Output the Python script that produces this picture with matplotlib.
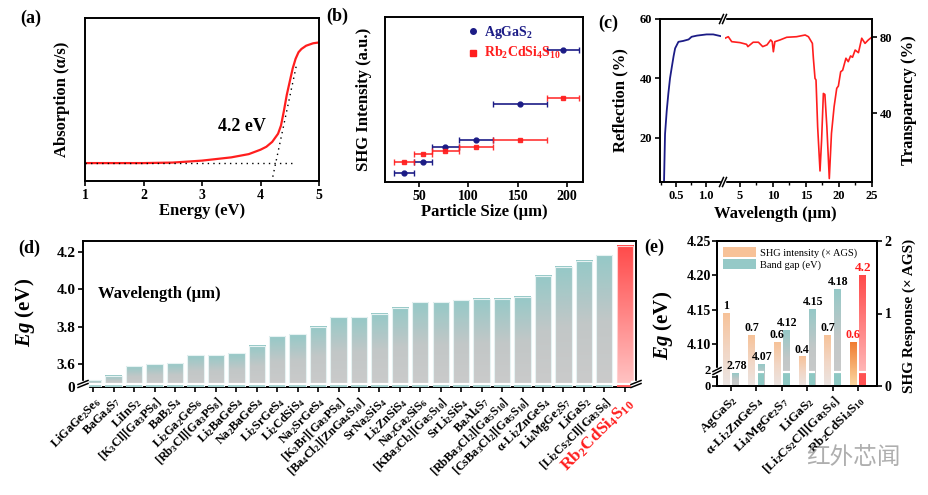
import numpy as np
import matplotlib
matplotlib.use('Agg')
import matplotlib.pyplot as plt
from matplotlib.colors import LinearSegmentedColormap
from matplotlib.lines import Line2D
from matplotlib.patches import Patch, Rectangle

plt.rcParams['font.family'] = ['Liberation Serif', 'DejaVu Serif']
plt.rcParams['font.weight'] = 'bold'
plt.rcParams['axes.labelweight'] = 'bold'
plt.rcParams['mathtext.fontset'] = 'custom'
plt.rcParams['mathtext.rm'] = 'Liberation Serif:bold'
plt.rcParams['mathtext.it'] = 'Liberation Serif:italic:bold'
plt.rcParams['mathtext.bf'] = 'Liberation Serif:bold'
plt.rcParams['axes.linewidth'] = 1.4
plt.rcParams['xtick.major.width'] = 1.2
plt.rcParams['ytick.major.width'] = 1.2
plt.rcParams['xtick.major.size'] = 3.5
plt.rcParams['ytick.major.size'] = 3.5

# (a) UV-vis absorption
energy = [1.0, 1.5, 2.0, 2.5, 3.0, 3.5, 3.8, 4.0, 4.1, 4.2, 4.3, 4.35, 4.4,
          4.45, 4.5, 4.55, 4.6, 4.65, 4.7, 4.78, 4.9, 5.0]
absorb = [0.11, 0.11, 0.11, 0.113, 0.125, 0.145, 0.165, 0.192, 0.21, 0.24,
          0.29, 0.34, 0.43, 0.53, 0.61, 0.69, 0.75, 0.79, 0.81, 0.83, 0.845, 0.85]
base_x = [1.0, 4.53]
base_y = [0.11, 0.11]
tan_x = [4.21, 4.62]
tan_y = [0.026, 0.72]

# (b) SHG vs particle size
size_c = [35, 54, 76.5, 107.5, 152.5, 196]
size_lo = [25, 45, 63, 90, 125, 180]
size_hi = [45, 63, 90, 125, 180, 212]
shg_ags = [0.053, 0.12, 0.214, 0.255, 0.472, 0.797]
shg_rb = [0.12, 0.17, 0.19, 0.214, 0.255, 0.512]

# (c) reflection / transparency
wl_uv = [0.25, 0.30, 0.317, 0.345, 0.372, 0.40, 0.43, 0.46, 0.485, 0.54,
         0.62, 0.71, 0.76, 0.85, 1.01, 1.12, 1.25]
refl = [4.9, 5.0, 21.2, 29.0, 34.8, 40.0, 43.8, 47.5, 50.1, 52.3, 52.6,
        53.1, 54.0, 54.4, 54.8, 54.8, 54.2]
wl_ir = [2.72, 3.22, 3.74, 5.0, 6.0, 6.2, 7.0, 7.8, 8.45, 9.1, 9.66, 9.9,
         10.07, 10.3, 11.08, 12.1, 13.6, 14.9, 15.4, 16.0, 16.15, 16.4, 16.55,
         16.8, 17.16, 17.4, 17.67, 17.9, 18.2, 18.57, 18.9, 19.3, 19.7, 19.95,
         20.3, 20.6, 21.1, 21.45, 21.8, 22.1, 22.5, 23.0, 23.5, 24.0, 24.5, 25.0]
trans = [79.5, 80.3, 77.7, 77.2, 76.3, 75.1, 77.4, 77.4, 75.1, 76.0, 78.6,
         77.7, 72.4, 77.7, 78.6, 80.0, 80.3, 81.2, 80.3, 76.8, 69.0, 58.4, 57.6,
         33.0, 9.8, 26.0, 50.5, 50.0, 33.0, 5.8, 29.5, 43.5, 53.2, 54.4, 61.9,
         62.7, 69.0, 67.2, 70.2, 69.5, 73.3, 71.9, 79.5, 76.8, 78.6, 80.0]

# (d) band gaps of reported sulfides
d_names = ['LiGaGe$_2$Se$_6$', 'BaGa$_4$S$_7$', 'LiInS$_2$',
           '[K$_3$Cl][Ga$_3$PS$_8$]', 'BaB$_2$S$_4$', 'Li$_2$Ga$_2$GeS$_6$',
           '[Rb$_3$Cl][Ga$_3$PS$_8$]', 'Li$_2$BaGeS$_4$', 'Na$_2$BaGeS$_4$',
           'Li$_2$SrGeS$_4$', 'Li$_2$CdSiS$_4$', 'Na$_2$SrGeS$_4$',
           '[K$_3$Br][Ga$_3$PS$_8$]', '[Ba$_4$Cl$_2$][ZnGa$_4$S$_{10}$]',
           'SrNa$_2$SiS$_4$', 'Li$_2$ZnSiS$_4$', 'Na$_2$Ga$_2$SiS$_6$',
           '[KBa$_3$Cl$_2$][Ga$_5$S$_{10}$]', 'SrLi$_2$SiS$_4$', 'BaAl$_4$S$_7$',
           '[RbBa$_3$Cl$_2$][Ga$_5$S$_{10}$]', '[CsBa$_3$Cl$_2$][Ga$_5$S$_{10}$]',
           'α-Li$_2$ZnGeS$_4$', 'Li$_4$MgGe$_2$S$_7$', 'LiGaS$_2$',
           '[Li$_2$Cs$_2$Cl][Ga$_3$S$_6$]', 'Rb$_2$CdSi$_4$S$_{10}$']
d_eg = [3.517, 3.539, 3.59, 3.60, 3.607, 3.65, 3.65, 3.66, 3.70, 3.75, 3.76,
        3.80, 3.85, 3.85, 3.87, 3.90, 3.93, 3.93, 3.94, 3.95, 3.95, 3.96, 4.07,
        4.12, 4.15, 4.18, 4.23]

# (e) SHG response vs band gap
e_names = ['AgGaS$_2$', 'α-Li$_2$ZnGeS$_4$', 'Li$_4$MgGe$_2$S$_7$', 'LiGaS$_2$',
           '[Li$_2$Cs$_2$Cl][Ga$_3$S$_6$]', 'Rb$_2$CdSi$_4$S$_{10}$']
e_shg = [1.0, 0.7, 0.6, 0.4, 0.7, 0.6]
e_eg = [2.78, 4.07, 4.12, 4.15, 4.18, 4.2]

W, H = 929, 495
fig = plt.figure(figsize=(W / 100, H / 100), dpi=100)


def box(l, t, r, b):
    return [l / W, 1 - b / H, (r - l) / W, (b - t) / H]


def slash(x, y, w, h, gap):
    # two parallel short strokes used as axis-break marks (pixel coords)
    fig.add_artist(Rectangle(((x - w / 2) / W, 1 - (y + gap) / H), w / W, 2 * gap / H,
                             transform=fig.transFigure, color='white', zorder=9))
    for off in (-gap / 2, gap / 2):
        if w < h:
            xs = [(x - w / 2 + off) / W, (x + w / 2 + off) / W]
            ys = [1 - (y + h / 2) / H, 1 - (y - h / 2) / H]
        else:
            xs = [(x - w / 2) / W, (x + w / 2) / W]
            ys = [1 - (y + off + h / 2) / H, 1 - (y + off - h / 2) / H]
        fig.add_artist(Line2D(xs, ys, color='k', lw=1.1, zorder=10))


def gradient_bars(ax, bars, cmap, zorder=2):
    grad = np.linspace(0, 1, 256).reshape(-1, 1)
    for r in bars:
        x0, y0, w, h = r.get_x(), r.get_y(), r.get_width(), r.get_height()
        ax.imshow(grad, extent=(x0, x0 + w, y0, y0 + h), origin='lower',
                  aspect='auto', cmap=cmap, zorder=zorder, interpolation='bilinear')


teal = LinearSegmentedColormap.from_list('teal', ['#cbcbcb', '#c2c7c7', '#95c9c7'])
redc = LinearSegmentedColormap.from_list('redc', ['#ffc6c6', '#ff4a4a'])
orng = LinearSegmentedColormap.from_list('orng', ['#ebe5e3', '#f2d6c4', '#f7c298'])
orng2 = LinearSegmentedColormap.from_list('orng2', ['#fcd9a2', '#f07c32'])
navy = '#1c1c86'
red = '#ff1e1e'

# ---------------- (a)
ax = fig.add_axes(box(85, 18, 319, 181))
ax.plot(energy, absorb, color=red, lw=1.6)
ax.plot(base_x, base_y, ls=(0, (1, 3)), color='k', lw=1)
ax.plot(tan_x, tan_y, ls=(0, (1, 3)), color='k', lw=1)
ax.text(3.69, 0.334, '4.2 eV', fontsize=13, ha='center', va='center')
ax.set_xlim(1, 5)
ax.set_ylim(0, 1)
ax.set_yticks([])
ax.set_xticks([1, 2, 3, 4, 5])
ax.tick_params(labelsize=10, pad=2)
ax.set_xlabel('Energy (eV)', fontsize=12, labelpad=1)
ax.set_ylabel('Absorption (α/s)', fontsize=12)
ax.yaxis.set_label_coords(-0.064, 0.5)
fig.text(20 / W, 1 - 18 / H, '(a)', fontsize=13, va='center')

# ---------------- (b)
ax = fig.add_axes(box(385, 17, 583, 182))
xc = np.array(size_c)
xe = [xc - np.array(size_lo), np.array(size_hi) - xc]
ax.errorbar(xc, shg_ags, xerr=xe, fmt='o', ms=3.5, color=navy, capsize=2,
            elinewidth=1.2, capthick=1)
ax.errorbar(xc, shg_rb, xerr=xe, fmt='s', ms=3.5, color=red, capsize=2,
            elinewidth=1.2, capthick=1, alpha=0.9)
ax.set_xlim(15.5, 216)
ax.set_ylim(0, 1)
ax.set_yticks([])
ax.set_xticks([50, 100, 150, 200])
ax.tick_params(labelsize=10, pad=2)
ax.set_xlabel('Particle Size (μm)', fontsize=12, labelpad=1)
ax.set_ylabel('SHG Intensity (a.u.)', fontsize=12)
ax.yaxis.set_label_coords(-0.066, 0.5)
hd = [Line2D([], [], marker='o', ls='none', color=navy, ms=4),
      Line2D([], [], marker='s', ls='none', color=red, ms=4)]
ax.legend(hd, ['AgGaS$_2$', 'Rb$_2$CdSi$_4$S$_{10}$'], loc='upper left',
          bbox_to_anchor=(0.38, 0.99), frameon=False, handlelength=1,
          handletextpad=0.3, borderaxespad=0, labelspacing=0.3, fontsize=10,
          labelcolor=[navy, red])
fig.text(326 / W, 1 - 16 / H, '(b)', fontsize=13, va='center')

# ---------------- (c)
c1 = fig.add_axes(box(660, 19, 721, 182))
c2 = fig.add_axes(box(725, 19, 872, 182))
c1.plot(wl_uv, refl, color=navy, lw=1.3)
c2.plot(wl_ir, trans, color=red, lw=1.2)
c1.set_xlim(0.233, 1.25)
c1.set_ylim(5, 60)
c2.set_xlim(2.72, 25.06)
c2.set_ylim(4, 89.6)
c1.spines['right'].set_visible(False)
c2.spines['left'].set_visible(False)
c1.set_xticks([0.5, 1.0])
c1.set_xticks([0.25, 0.75, 1.25], minor=True)
c1.set_xticklabels(['0.5', '1.0'])
c1.set_yticks([20, 40, 60])
c2.set_xticks([5, 10, 15, 20, 25])
c2.set_xticks([7.5, 12.5, 17.5, 22.5], minor=True)
c2.yaxis.tick_right()
c2.yaxis.set_label_position('right')
c2.set_yticks([40, 80])
for a in (c1, c2):
    a.tick_params(labelsize=9, pad=2)
    a.tick_params(which='minor', length=2, width=1)
c1.set_ylabel('Reflection (%)', fontsize=12)
c1.yaxis.set_label_coords(-0.52, 0.5)
c2.set_ylabel('Transparency (%)', fontsize=12)
c2.yaxis.set_label_coords(1.2, 0.5)
fig.text(775 / W, 1 - 214 / H, 'Wavelength (μm)', fontsize=12, ha='center', va='center')
fig.text(598 / W, 1 - 23 / H, '(c)', fontsize=13, va='center')
slash(723, 19, 4, 9, 3)
slash(723, 182, 4, 9, 3)

# ---------------- (d)
ax = fig.add_axes(box(83, 241, 636, 387))
d_lo = 3.48
xd = np.arange(len(d_eg))
hd_ = np.array(d_eg) - d_lo
bars = ax.bar(xd[:-1], hd_[:-1], 0.8, bottom=d_lo, facecolor='none',
              edgecolor='#e6f2f2', lw=0.8, zorder=3)
gradient_bars(ax, bars, teal)
rbar = ax.bar(xd[-1:], hd_[-1:], 0.8, bottom=d_lo, facecolor='none',
              edgecolor='#ffd0d0', lw=0.8, zorder=3)
gradient_bars(ax, rbar, redc)
ax.bar(xd[:-1], 0.011, 0.8, bottom=d_lo, color='#a3d0ce', zorder=3)
ax.bar(xd[-1:], 0.011, 0.8, bottom=d_lo, color='#ff5a5a', zorder=3)
ax.axhline(3.4935, color='white', lw=1.6, zorder=4)
ax.set_xlim(-0.5, 26.55)
ax.set_ylim(d_lo, 4.256)
ax.set_yticks([d_lo, 3.6, 3.8, 4.0, 4.2])
ax.set_yticklabels(['0', '3.6', '3.8', '4.0', '4.2'])
ax.set_xticks(xd)
ax.set_xticklabels(d_names, rotation=45, ha='right', va='top',
                   rotation_mode='anchor', fontsize=8.8)
lab = ax.get_xticklabels()[-1]
lab.set_color(red)
lab.set_fontsize(12.5)
ax.tick_params(axis='y', labelsize=11, pad=2)
ax.tick_params(axis='x', pad=2)
ax.set_ylabel('$\\mathit{Eg}$ (eV)', fontsize=15)
ax.yaxis.set_label_coords(-0.083, 0.51)
ax.text(0.027, 0.64, 'Wavelength (μm)', transform=ax.transAxes, fontsize=12,
        va='center')
fig.text(18 / W, 1 - 248 / H, '(d)', fontsize=13, va='center')
slash(83, 384, 10, 4, 3)
slash(636, 384, 10, 4, 3)

# ---------------- (e)
ax = fig.add_axes(box(717, 241, 877, 386))
ax2 = ax.twinx()
e_lo = 4.0386


def eg_axis(v):
    v = np.asarray(v, float)
    return np.where(v >= 4.0, v, e_lo + v / 2.78 * 0.0189)


xe_ = np.arange(len(e_eg))
eg_pos = eg_axis(e_eg)
tb = ax.bar(xe_[:-1] + 0.19, eg_pos[:-1] - e_lo, 0.26, bottom=e_lo,
            facecolor='none', edgecolor='none', zorder=3)
gradient_bars(ax, tb, teal)
tr = ax.bar(xe_[-1:] + 0.19, eg_pos[-1:] - e_lo, 0.26, bottom=e_lo,
            facecolor='none', edgecolor='none', zorder=3)
gradient_bars(ax, tr, redc)
hi = np.array(e_eg) > 3
ax.bar(xe_[hi][:-1] + 0.19, 0.0186, 0.26, bottom=e_lo, color='#8ec8c3', zorder=3)
ax.bar(xe_[-1:] + 0.19, 0.0186, 0.26, bottom=e_lo, color='#ff5252', zorder=3)
ax.hlines(np.full(hi.sum(), e_lo + 0.0200), xe_[hi] + 0.06, xe_[hi] + 0.32,
          color='white', lw=1.6, zorder=4)
ob = ax2.bar(xe_[:-1] - 0.19, e_shg[:-1], 0.26, facecolor='none', edgecolor='none')
gradient_bars(ax2, ob, orng)
ob2 = ax2.bar(xe_[-1:] - 0.19, e_shg[-1:], 0.26, facecolor='none', edgecolor='none')
gradient_bars(ax2, ob2, orng2)
for i in range(len(e_eg)):
    last = i == len(e_eg) - 1
    col = red if last else 'k'
    ax2.annotate(f'{e_eg[i]:g}', (xe_[i] + 0.22, eg_pos[i]), xycoords=ax.transData,
                 xytext=(0, 1), textcoords='offset points', ha='center',
                 va='bottom', fontsize=9.5 if last else 8.6, color=col, zorder=6)
    ax2.annotate(f'{e_shg[i]:g}', (xe_[i] - 0.19, e_shg[i]), xytext=(0, 1),
                 textcoords='offset points', ha='center', va='bottom',
                 fontsize=8.6, color=col, zorder=6)
ax.set_xlim(-0.55, 5.75)
ax.set_ylim(e_lo, 4.25)
ax2.set_ylim(0, 2)
ax.set_yticks(list(eg_axis([0, 2])) + [4.10, 4.15, 4.20, 4.25])
ax.set_yticklabels(['0', '2', '4.10', '4.15', '4.20', '4.25'])
ax2.set_yticks([0, 1, 2])
ax.set_xticks(xe_)
ax.set_xticklabels(e_names, rotation=45, ha='right', va='top',
                   rotation_mode='anchor', fontsize=9.5)
ax.tick_params(axis='y', labelsize=10, pad=1)
ylabs = ax.get_yticklabels()
ylabs[0].set_fontsize(9)
ylabs[1].set_fontsize(9)
ylabs[1].set_va('bottom')
ax2.tick_params(axis='y', labelsize=10, pad=2)
ax.tick_params(axis='x', pad=2)
ax.set_ylabel('$\\mathit{Eg}$ (eV)', fontsize=15)
ax.yaxis.set_label_coords(-0.26, 0.42)
ax2.set_ylabel('SHG Response (× AGS)', fontsize=11)
ax2.yaxis.set_label_coords(1.16, 0.48)
hd = [Patch(facecolor='#f7c298'), Patch(facecolor='#95c9c7')]
ax2.legend(hd, ['SHG intensity (× AGS)', 'Band gap (eV)'], loc='upper left',
           frameon=False, prop={'size': 7.5, 'weight': 'normal'},
           handlelength=3.2, handleheight=1.1, handletextpad=0.4,
           borderaxespad=0.15, labelspacing=0.15)
fig.text(644 / W, 1 - 247 / H, '(e)', fontsize=13, va='center')
slash(717, 371, 8, 4, 3)

fig.text(853 / W, 1 - 457 / H, '红外芯闻', family=['Noto Sans CJK SC'],
         fontsize=17, color='#a0a0a0', weight='normal', ha='center', va='center',
         alpha=0.85)

fig.savefig('out.png', dpi=100)
